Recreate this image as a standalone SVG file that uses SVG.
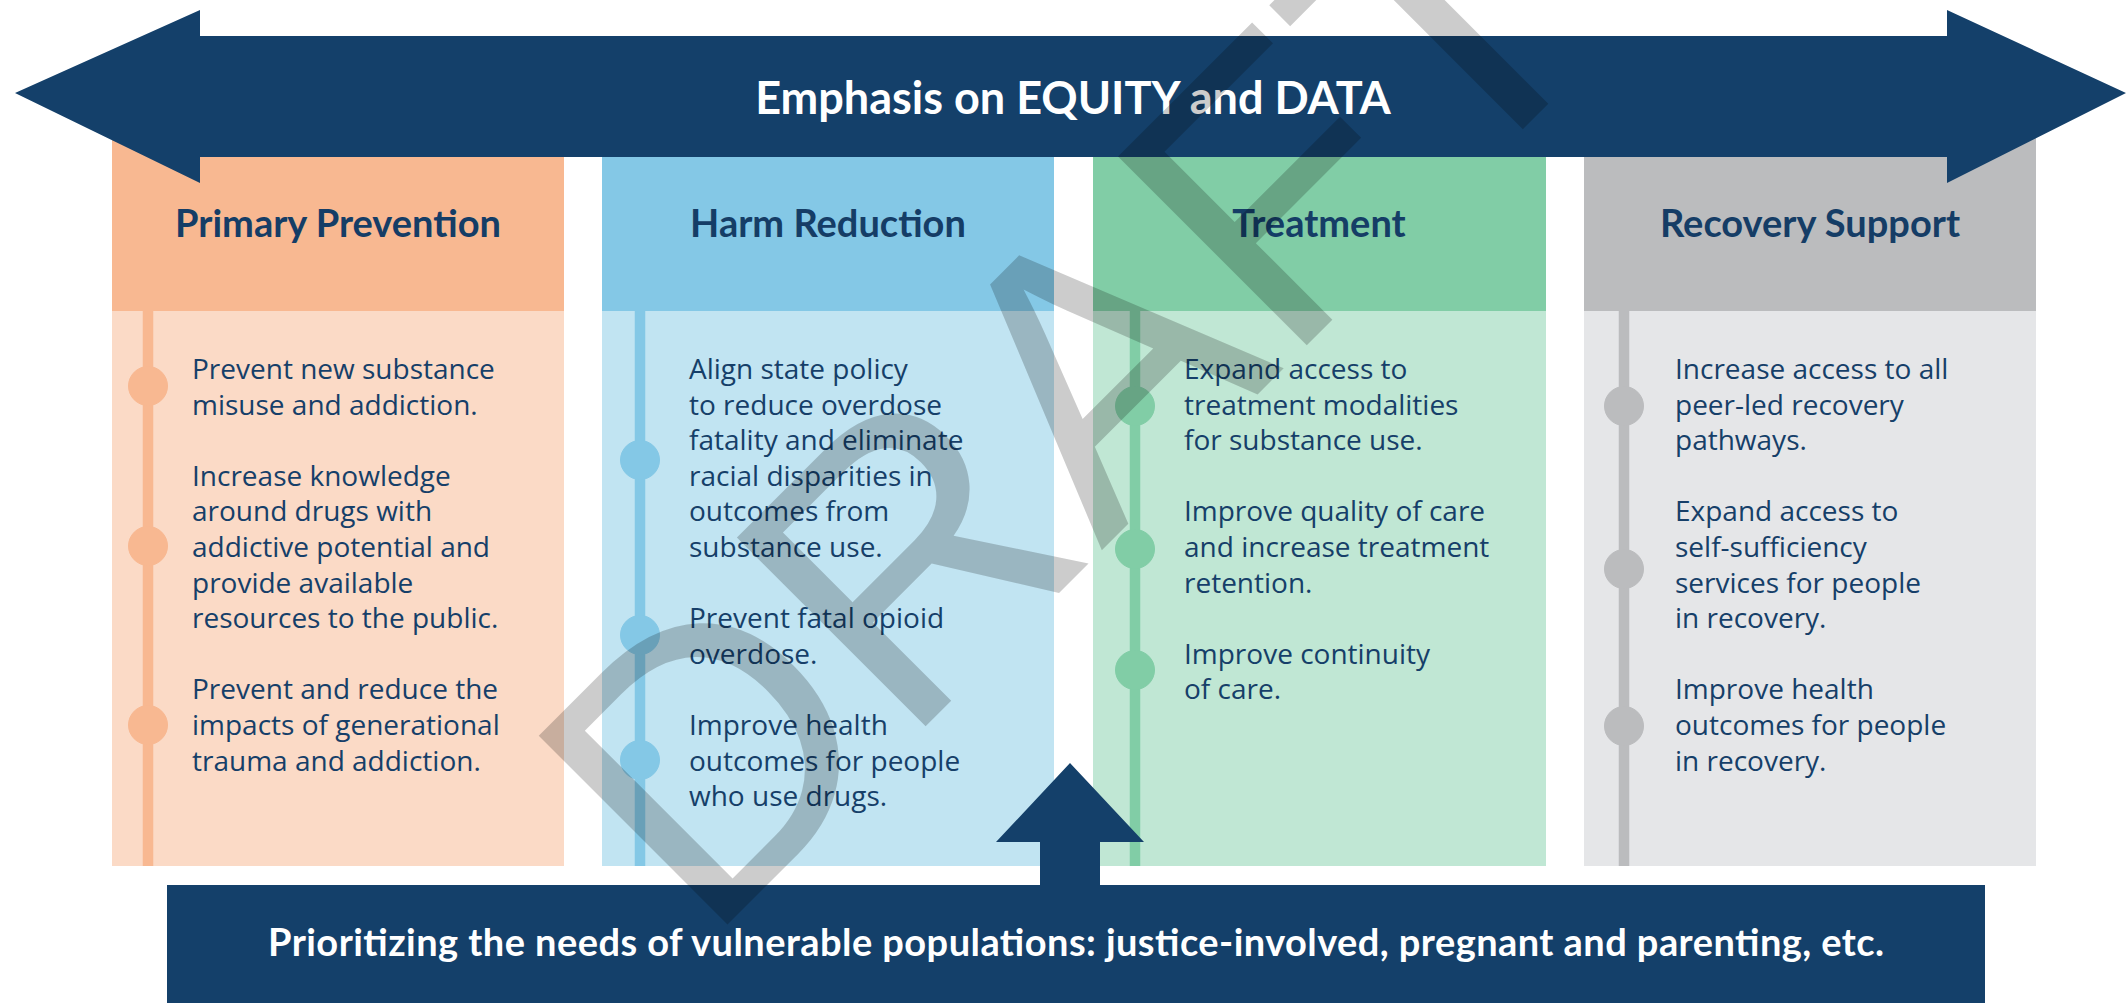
<svg xmlns="http://www.w3.org/2000/svg" width="2128" height="1003" viewBox="0 0 2128 1003">
  <defs>
    <style>
      .navy { fill: #14406A; }
      .head { font-family: Lato, "Open Sans", "Liberation Sans", sans-serif; font-weight: 700; font-size: 38px; fill: #153D66; text-anchor: middle; }
      .body { font-family: "Open Sans", "Liberation Sans", sans-serif; font-size: 28px; fill: #163F69; }
      .banner { font-family: Lato, "Open Sans", "Liberation Sans", sans-serif; font-weight: 700; fill: #FFFFFF; text-anchor: middle; }
      .rail { stroke-width: 10.5; }
      .pp-h { fill: #F8B891; } .pp-b { fill: #FBDAC6; } .pp-r { stroke: #F8B891; fill: #F8B891; }
      .hr-h { fill: #84C8E6; } .hr-b { fill: #C1E4F2; } .hr-r { stroke: #84C8E6; fill: #84C8E6; }
      .tr-h { fill: #81CDA6; } .tr-b { fill: #C0E7D4; } .tr-r { stroke: #81CDA6; fill: #81CDA6; }
      .rs-h { fill: #BBBCBE; } .rs-b { fill: #E5E6E8; } .rs-r { stroke: #BBBCBE; fill: #BBBCBE; }
      .watermark { font-family: "Liberation Sans", Arial, sans-serif; font-size: 388px; fill: #000000; fill-opacity: 0.2; }
    </style>
  </defs>

  <rect x="0" y="0" width="2128" height="1003" fill="#FFFFFF"/>

  <!-- Column 1: Primary Prevention -->
  <g id="primary-prevention">
    <rect class="pp-h" x="112" y="100" width="452" height="211"/>
    <rect class="pp-b" x="112" y="311" width="452" height="555"/>
    <line class="rail pp-r" x1="148" y1="311" x2="148" y2="866"/>
    <circle class="pp-r" cx="148" cy="386" r="19.5" stroke="none"/>
    <circle class="pp-r" cx="148" cy="546" r="19.5" stroke="none"/>
    <circle class="pp-r" cx="148" cy="725" r="19.5" stroke="none"/>
    <text class="head" x="338" y="237">Primary Prevention</text>
    <text class="body" x="192" y="379">
      <tspan x="192">Prevent new substance</tspan>
      <tspan x="192" dy="35.6">misuse and addiction.</tspan>
      <tspan x="192" dy="71.2">Increase knowledge</tspan>
      <tspan x="192" dy="35.6">around drugs with</tspan>
      <tspan x="192" dy="35.6">addictive potential and</tspan>
      <tspan x="192" dy="35.6">provide available</tspan>
      <tspan x="192" dy="35.6">resources to the public.</tspan>
      <tspan x="192" dy="71.2">Prevent and reduce the</tspan>
      <tspan x="192" dy="35.6">impacts of generational</tspan>
      <tspan x="192" dy="35.6">trauma and addiction.</tspan>
    </text>
  </g>

  <!-- Column 2: Harm Reduction -->
  <g id="harm-reduction">
    <rect class="hr-h" x="602" y="100" width="452" height="211"/>
    <rect class="hr-b" x="602" y="311" width="452" height="555"/>
    <line class="rail hr-r" x1="640" y1="311" x2="640" y2="866"/>
    <circle class="hr-r" cx="640" cy="460" r="19.5" stroke="none"/>
    <circle class="hr-r" cx="640" cy="635" r="19.5" stroke="none"/>
    <circle class="hr-r" cx="640" cy="760" r="19.5" stroke="none"/>
    <text class="head" x="828" y="237">Harm Reduction</text>
    <text class="body" x="689" y="379">
      <tspan x="689">Align state policy</tspan>
      <tspan x="689" dy="35.6">to reduce overdose</tspan>
      <tspan x="689" dy="35.6">fatality and eliminate</tspan>
      <tspan x="689" dy="35.6">racial disparities in</tspan>
      <tspan x="689" dy="35.6">outcomes from</tspan>
      <tspan x="689" dy="35.6">substance use.</tspan>
      <tspan x="689" dy="71.2">Prevent fatal opioid</tspan>
      <tspan x="689" dy="35.6">overdose.</tspan>
      <tspan x="689" dy="71.2">Improve health</tspan>
      <tspan x="689" dy="35.6">outcomes for people</tspan>
      <tspan x="689" dy="35.6">who use drugs.</tspan>
    </text>
  </g>

  <!-- Column 3: Treatment -->
  <g id="treatment">
    <rect class="tr-h" x="1093" y="100" width="453" height="211"/>
    <rect class="tr-b" x="1093" y="311" width="453" height="555"/>
    <line class="rail tr-r" x1="1135" y1="311" x2="1135" y2="866"/>
    <circle class="tr-r" cx="1135" cy="406" r="19.5" stroke="none"/>
    <circle class="tr-r" cx="1135" cy="549" r="19.5" stroke="none"/>
    <circle class="tr-r" cx="1135" cy="670" r="19.5" stroke="none"/>
    <text class="head" x="1319" y="237">Treatment</text>
    <text class="body" x="1184" y="379">
      <tspan x="1184">Expand access to</tspan>
      <tspan x="1184" dy="35.6">treatment modalities</tspan>
      <tspan x="1184" dy="35.6">for substance use.</tspan>
      <tspan x="1184" dy="71.2">Improve quality of care</tspan>
      <tspan x="1184" dy="35.6">and increase treatment</tspan>
      <tspan x="1184" dy="35.6">retention.</tspan>
      <tspan x="1184" dy="71.2">Improve continuity</tspan>
      <tspan x="1184" dy="35.6">of care.</tspan>
    </text>
  </g>

  <!-- Column 4: Recovery Support -->
  <g id="recovery-support">
    <rect class="rs-h" x="1584" y="100" width="452" height="211"/>
    <rect class="rs-b" x="1584" y="311" width="452" height="555"/>
    <line class="rail rs-r" x1="1624" y1="311" x2="1624" y2="866"/>
    <circle class="rs-r" cx="1624" cy="406" r="19.5" stroke="none"/>
    <circle class="rs-r" cx="1624" cy="569" r="19.5" stroke="none"/>
    <circle class="rs-r" cx="1624" cy="726" r="19.5" stroke="none"/>
    <text class="head" x="1810" y="237">Recovery Support</text>
    <text class="body" x="1675" y="379">
      <tspan x="1675">Increase access to all</tspan>
      <tspan x="1675" dy="35.6">peer-led recovery</tspan>
      <tspan x="1675" dy="35.6">pathways.</tspan>
      <tspan x="1675" dy="71.2">Expand access to</tspan>
      <tspan x="1675" dy="35.6">self-sufficiency</tspan>
      <tspan x="1675" dy="35.6">services for people</tspan>
      <tspan x="1675" dy="35.6">in recovery.</tspan>
      <tspan x="1675" dy="71.2">Improve health</tspan>
      <tspan x="1675" dy="35.6">outcomes for people</tspan>
      <tspan x="1675" dy="35.6">in recovery.</tspan>
    </text>
  </g>

  <!-- Double-headed banner across the top -->
  <g id="equity-data">
    <polygon class="navy" points="15,93 200,10 200,36 1947,36 1947,10 2126,93 1947,183 1947,157 200,157 200,183"/>
    <text class="banner" x="1073" y="114" font-size="45">Emphasis on EQUITY and DATA</text>
  </g>

  <!-- Bottom banner -->
  <g id="vulnerable-populations">
    <rect class="navy" x="167" y="885" width="1818" height="118"/>
    <text class="banner" x="1076" y="956" font-size="38" textLength="1616">Prioritizing the needs of vulnerable populations: justice-involved, pregnant and parenting, etc.</text>
  </g>

  <!-- Connectors -->
  <g id="connectors">
    <polygon class="navy" points="1070,763 1144,842 1100,842 1100,886 1040,886 1040,842 996,842"/>
  </g>

  <!-- Watermark -->
  <g id="watermark">
    <text class="watermark" transform="translate(705,947) rotate(-45)" x="0" y="0">DRAFT</text>
  </g>
</svg>
